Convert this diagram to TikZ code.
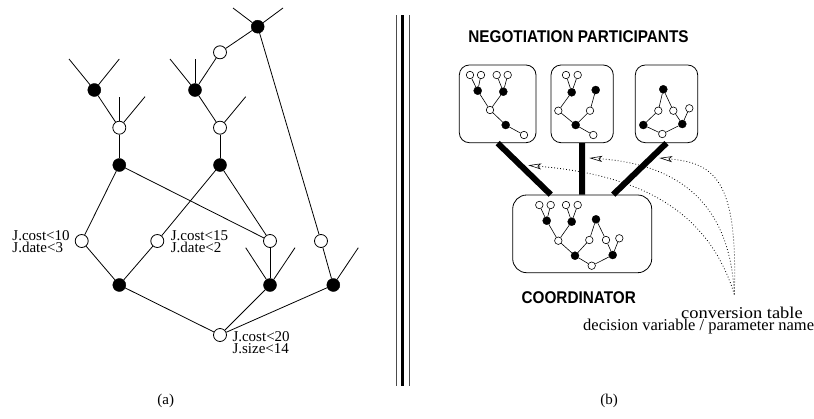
\documentclass[tikz,border=0pt]{standalone}
\usepackage{fontspec}
\setmainfont{Liberation Serif}
\setsansfont{Liberation Sans}
\usetikzlibrary{arrows.meta,calc}

% two lines set tightly, first baseline is the box baseline
\newcommand\stackpair[3][11.6pt]{\vtop{\baselineskip=#1\lineskiplimit=-100pt\lineskip=0pt\hbox{#2}\hbox{#3}}}

\tikzset{
  edge/.style={line width=0.8pt},
  sedge/.style={line width=0.6pt},
  bk/.style={circle,fill=black,draw=black,inner sep=0pt,minimum size=13pt},
  wt/.style={circle,fill=white,draw=black,line width=0.8pt,inner sep=0pt,minimum size=13pt},
  sbk/.style={circle,fill=black,draw=black,inner sep=0pt,minimum size=8pt},
  swt/.style={circle,fill=white,draw=black,line width=0.6pt,inner sep=0pt,minimum size=7.5pt},
  lbl/.style={font=\fontsize{15}{15}\selectfont,anchor=base west,inner sep=0pt},
  subcap/.style={font=\fontsize{15}{15}\selectfont,inner sep=0pt},
  panel/.style={draw,rounded corners=10pt,line width=0.8pt,inner sep=0pt,minimum height=77.7pt},
  link/.style={line width=6pt},
  convarrow/.style={line width=0.8pt,dash pattern=on 0.8pt off 2.2pt,
    -{Stealth[open,length=13pt,width=6pt,inset=3pt,line width=0.6pt]}},
  heading/.style={font=\sffamily\bfseries\fontsize{17}{17}\selectfont,inner sep=0pt},
  note/.style={font=\fontsize{16.5}{16.5}\selectfont,anchor=base west,inner sep=0pt}
}

\begin{document}
\begin{tikzpicture}[x=1pt,y=-1pt]
\useasboundingbox (0,0) rectangle (814,418);

% ---------------- (a) constraint network ----------------
\node[bk] (T)  at (257.7,26.7) {};
\node[wt] (W1) at (220,52.3) {};
\node[bk] (B1) at (94.3,90) {};
\node[bk] (B2) at (195,90) {};
\node[wt] (W2) at (119.3,127.7) {};
\node[wt] (W3) at (220,127.7) {};
\node[bk] (B3) at (119.3,165) {};
\node[bk] (B4) at (220,165) {};
\node[wt] (W4) at (81.7,241) {};
\node[wt] (W5) at (157.3,241) {};
\node[wt] (W6) at (270,241) {};
\node[wt] (W7) at (321,241) {};
\node[bk] (B5) at (119.3,285) {};
\node[bk] (B6) at (270,285) {};
\node[bk] (B7) at (333.3,285) {};
\node[wt] (W8) at (220,335) {};

% open branches
\coordinate (t1) at (233,8);
\coordinate (t2) at (283,8);
\coordinate (b2a) at (170,59);
\coordinate (b2b) at (195,59);
\coordinate (b1a) at (69,59);
\coordinate (b1b) at (119.3,59);
\coordinate (w2a) at (119.3,96.7);
\coordinate (w2b) at (145,96.7);
\coordinate (w3a) at (245.7,96.7);
\coordinate (b6a) at (245.7,247.7);
\coordinate (b6b) at (295,247.7);
\coordinate (b7a) at (358.3,247.7);

\begin{scope}[edge]
  \draw (T) -- (t1);  \draw (T) -- (t2);
  \draw (B2) -- (b2a); \draw (B2) -- (b2b);
  \draw (B1) -- (b1a); \draw (B1) -- (b1b);
  \draw (W2) -- (w2a); \draw (W2) -- (w2b);
  \draw (W3) -- (w3a);
  \draw (B6) -- (b6a); \draw (B6) -- (b6b);
  \draw (B7) -- (b7a);
  \draw (T) -- (W1);  \draw (W1) -- (B2);
  \draw (T) -- (W7);
  \draw (B1) -- (W2); \draw (B2) -- (W3);
  \draw (W2) -- (B3); \draw (W3) -- (B4);
  \draw (B3) -- (W4); \draw (B3) -- (W6);
  \draw (B4) -- (W5); \draw (B4) -- (W6);
  \draw (W4) -- (B5); \draw (W5) -- (B5);
  \draw (W6) -- (B6); \draw (W7) -- (B7);
  \draw (B5) -- (W8); \draw (B6) -- (W8); \draw (B7) -- (W8);
\end{scope}

\node[lbl] (l1) at (12.3,240.7) {\stackpair{J.cost<10}{J.date<3}};
\node[lbl] (l2) at (170.7,240.7) {\stackpair{J.cost<15}{J.date<2}};
\node[lbl] (l3) at (232.3,341.7) {\stackpair{J.cost<20}{J.size<14}};

\node[subcap] (capa) at (165.7,401) {(a)};

% ---------------- separator ----------------
\draw[line width=0.8pt,black!70] (396,15) -- (396,386);
\draw[line width=2.6pt] (402.3,15) -- (402.3,386);
\draw[line width=0.8pt,black!70] (409,15) -- (409,386);

% ---------------- (b) negotiation ----------------
\node[heading] (hd) at (578.5,36.7) {\scalebox{0.9}[1]{NEGOTIATION PARTICIPANTS}};

\node[panel,minimum width=76.7pt] (P1) at (497.65,103.85) {};
\node[panel,minimum width=62.3pt] (P2) at (582.15,103.85) {};
\node[panel,minimum width=62.4pt] (P3) at (666.5,103.85) {};
\node[panel,minimum width=139pt,rounded corners=14pt] (C) at (582.2,233.85) {};

\draw[link] (P1.south) -- ([xshift=-31.5pt]C.north);
\draw[link] (P2.south) -- (C.north);
\draw[link] (P3.south) -- ([xshift=31pt]C.north);

% participant 1
\node[swt] (a1) at (470,75) {};
\node[swt] (a2) at (481,75) {};
\node[swt] (a3) at (496.7,75) {};
\node[swt] (a4) at (507.7,75) {};
\node[sbk] (a5) at (477.7,90.7) {};
\node[sbk] (a6) at (503.3,91.7) {};
\node[swt] (a7) at (490,110) {};
\node[sbk] (a8) at (505.7,125) {};
\node[swt] (a9) at (524,135) {};
\begin{scope}[sedge]
  \draw (a1) -- (a5); \draw (a2) -- (a5);
  \draw (a3) -- (a6); \draw (a4) -- (a6);
  \draw (a5) -- (a7); \draw (a6) -- (a7);
  \draw (a7) -- (a8); \draw (a8) -- (a9);
\end{scope}

% participant 2
\node[swt] (c1) at (566,75) {};
\node[swt] (c2) at (577.7,75) {};
\node[sbk] (c3) at (571.7,92.3) {};
\node[sbk] (c4) at (595.7,90) {};
\node[swt] (c5) at (558.3,110.7) {};
\node[swt] (c6) at (590,110.7) {};
\node[sbk] (c7) at (575.7,125) {};
\node[swt] (c8) at (593.3,135) {};
\begin{scope}[sedge]
  \draw (c1) -- (c3); \draw (c2) -- (c3);
  \draw (c3) -- (c5); \draw (c4) -- (c6);
  \draw (c5) -- (c7); \draw (c6) -- (c7);
  \draw (c7) -- (c8);
\end{scope}

% participant 3
\node[sbk] (d1) at (663.3,89.3) {};
\node[swt] (d2) at (658.3,110.7) {};
\node[swt] (d3) at (673.3,110.7) {};
\node[swt] (d4) at (689.3,108.3) {};
\node[sbk] (d5) at (643.3,125) {};
\node[sbk] (d6) at (682.3,124) {};
\node[swt] (d7) at (662.3,134) {};
\begin{scope}[sedge]
  \draw (d1) -- (d2); \draw (d1) -- (d3);
  \draw (d2) -- (d5); \draw (d3) -- (d6); \draw (d4) -- (d6);
  \draw (d5) -- (d7); \draw (d7) -- (d6);
\end{scope}

% coordinator
\node[swt] (e1) at (539.3,205) {};
\node[swt] (e2) at (550.7,205) {};
\node[swt] (e3) at (566,205) {};
\node[swt] (e4) at (577.7,205) {};
\node[sbk] (e5) at (546.7,220.7) {};
\node[sbk] (e6) at (571.7,221.7) {};
\node[sbk] (e7) at (596,219.3) {};
\node[swt] (e8) at (558.3,240.7) {};
\node[swt] (e9) at (589.3,240) {};
\node[swt] (e10) at (606,240) {};
\node[swt] (e11) at (619.3,238.3) {};
\node[sbk] (e12) at (575,255.7) {};
\node[sbk] (e13) at (612.7,255) {};
\node[swt] (e14) at (591.7,265.7) {};
\begin{scope}[sedge]
  \draw (e1) -- (e5); \draw (e2) -- (e5);
  \draw (e3) -- (e6); \draw (e4) -- (e6);
  \draw (e5) -- (e8); \draw (e6) -- (e8);
  \draw (e8) -- (e12);
  \draw (e7) -- (e9); \draw (e7) -- (e10);
  \draw (e9) -- (e12); \draw (e10) -- (e13); \draw (e11) -- (e13);
  \draw (e12) -- (e14); \draw (e14) -- (e13);
\end{scope}

\node[heading] (co) at (578.7,297.3) {\scalebox{0.9}[1]{COORDINATOR}};

% conversion table references
\coordinate (tab) at (734.3,294.3);
\coordinate (tip1) at (528.3,165.3);
\coordinate (tip2) at (589.3,158);
\coordinate (tip3) at (659.3,158);
\draw[convarrow] (tab) .. controls (708,210) and (640,175) .. (tip1);
\draw[convarrow] (tab) .. controls (730,200) and (675,164) .. (tip2);
\draw[convarrow] (tab) .. controls (738,180) and (715,163) .. (tip3);

\node[note] (nt) at (583,318.3) {\stackpair[12.4pt]{\hskip98pt\scalebox{1.12}[1]{conversion table}}{decision variable / parameter name}};

\node[subcap] (capb) at (609,401) {(b)};
\end{tikzpicture}
\end{document}
